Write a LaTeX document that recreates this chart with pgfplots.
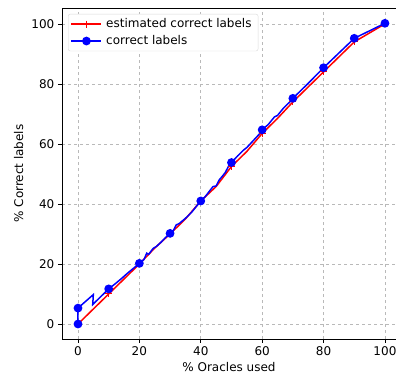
\documentclass[border=0pt]{standalone}
\usepackage{pgfplots}
\pgfplotsset{compat=1.18}
\usepackage{fontspec}
\setmainfont{DejaVu Sans}
\begin{document}
\fontsize{12}{14}\selectfont
\begin{tikzpicture}
\begin{axis}[
  name=ax,
  scale only axis,
  width=334pt, height=331pt,
  xmin=-5.21, xmax=103.6,
  ymin=-5, ymax=105.3,
  xtick={0,20,40,60,80,100},
  ytick={0,20,40,60,80,100},
  /pgf/number format/assume math mode=true,
  tick label style={font=\fontsize{12}{14}\selectfont},
  label style={font=\fontsize{12}{14}\selectfont},
  xlabel={\% Oracles used},
  ylabel={\% Correct labels},
  grid=major,
  major grid style={gray!55, dashed, line width=0.6pt},
  tick align=outside, tick pos=left,
  major tick length=3.5pt,
  axis line style={line width=0.8pt},
  every tick/.style={black, line width=0.8pt},
  xlabel style={yshift=2pt},
  ylabel style={yshift=0pt},
  legend cell align=left,
  legend style={draw=gray!30, rounded corners=2pt, font=\fontsize{12}{14}\selectfont, at={(0.018,0.982)}, anchor=north west, row sep=2pt, inner sep=2.5pt,
    nodes={inner xsep=4pt}},
  legend image code/.code={\draw[line width=1.5pt, mark indices={2}] plot coordinates {(0pt,0pt) (15pt,0pt) (30pt,0pt)};},
]
\addplot[red, line width=1.5pt, mark=+, mark size=3.5pt, mark options={line width=1pt},
  mark indices={1,2,3,5,7,9,11,13,15,17,18}] coordinates {
(0,0) (10,10) (20,20) (25,25.3) (30,30) (35,35) (40,41) (45,45.8) (50,52.5)
(55,57.5) (60,63.5) (65,68.5) (70,74) (75,79) (80,84) (85,89) (90,94) (100,100)
};
\addlegendentry{estimated correct labels}
\addplot[blue, line width=1.5pt, mark=*, mark size=3.6pt,
  mark indices={1,2,5,10,18,24,33,39,45,47,49,50}] coordinates {
(0,0) (0,5.3) (5,9.8) (4.8,6.5) (10,11.7) (12,13.3) (14,15) (16,16.8) (18,18.5)
(20,20.2) (21.5,21.5) (22.4,23.6) (23,23.2) (24.5,25.2) (25.5,25.8) (27,27.2)
(28.5,28.8) (30,30.2) (31,31) (32,33) (33,33.5) (35,35.2) (37,37.2) (40,41)
(41.5,42.5) (43,44.5) (44,45.8) (45,46) (46,48) (47,49.2) (48,50.5) (49,52.5)
(50,53.8) (52,56) (54,58) (55,58.8) (57,61) (59,63.2) (60,64.7) (62,66.5)
(64,69) (65,69.5) (67,72) (69,74) (70,75.2) (75,80.2) (80,85.4) (85,90.3)
(90,95.2) (100,100.2)
};
\addlegendentry{correct labels}
\end{axis}
\pgfresetboundingbox
\path ([shift={(-62pt,-39pt)}]ax.south west) rectangle ([shift={(0pt,8pt)}]ax.north east);
\end{tikzpicture}
\end{document}
